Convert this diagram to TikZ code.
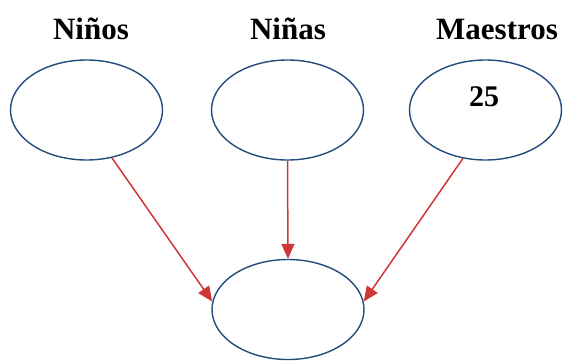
\documentclass[tikz,border=0pt]{standalone}
\usepackage{fontspec}
\setmainfont{Liberation Serif}[BoldFont={Liberation Serif Bold}]
\newfontfamily\titlefont{Liberation Serif}[BoldFont={Liberation Serif Bold}]
\usetikzlibrary{shapes.geometric,arrows.meta}
\definecolor{ellblue}{RGB}{35,75,125}
\definecolor{arrred}{RGB}{205,55,55}
\begin{document}
\begin{tikzpicture}[x=1pt,y=1pt,
  oval/.style={ellipse,draw=ellblue,line width=1.4pt,minimum width=152pt,minimum height=100pt,inner sep=0pt},
  title/.style={anchor=base,font=\titlefont\fontsize{31}{36}\selectfont\bfseries,inner sep=0pt},
  link/.style={draw=arrred,line width=1.5pt,-{Triangle[length=15pt,width=13pt]}}]
\useasboundingbox (0,0) rectangle (563,-362);
\node[title] (t1) at (91,-39) {Niños};
\node[title] (t2) at (288,-39) {Niñas};
\node[title] (t3) at (497,-39) {Maestros};
\node[oval] (n1) at (86.5,-110) {};
\node[oval] (n2) at (287.5,-110) {};
\node[oval] (n3) at (485.5,-110) {};
\node[title,anchor=center,font=\titlefont\fontsize{30}{34}\selectfont\bfseries] (v3) at (484,-97) {25};
\node[oval] (b) at (288,-309.5) {};
\draw[link] (n1.298) -- (b.174);
\draw[link] (n2.south) -- (b.north);
\draw[link] (n3.245) -- (b.6);
\end{tikzpicture}
\end{document}
